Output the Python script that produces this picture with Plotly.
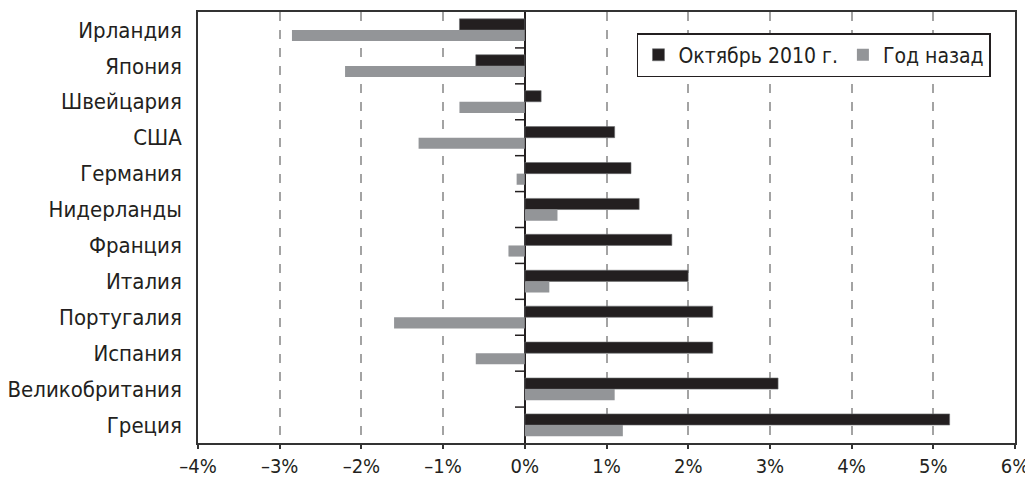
import plotly.graph_objects as go

countries = ["Ирландия", "Япония", "Швейцария", "США", "Германия", "Нидерланды",
             "Франция", "Италия", "Португалия", "Испания", "Великобритания", "Греция"]
oct_2010 = [-0.8, -0.6, 0.2, 1.1, 1.3, 1.4, 1.8, 2.0, 2.3, 2.3, 3.1, 5.2]
year_ago = [-2.85, -2.2, -0.8, -1.3, -0.1, 0.4, -0.2, 0.3, -1.6, -0.6, 1.1, 1.2]
tick_vals = [-4, -3, -2, -1, 0, 1, 2, 3, 4, 5, 6]
tick_text = ["–4%", "–3%", "–2%", "–1%", "0%", "1%", "2%", "3%", "4%", "5%", "6%"]

FONT = "DejaVu Sans Condensed, Liberation Sans Narrow, sans-serif"

fig = go.Figure()
fig.add_trace(go.Bar(y=countries, x=oct_2010, orientation="h", name="Октябрь 2010 г.",
                     marker=dict(color="#231f20", line=dict(color="#6d6e70", width=0.6))))
fig.add_trace(go.Bar(y=countries, x=year_ago, orientation="h", name="Год назад",
                     marker=dict(color="#939598", line=dict(width=0))))

# small category ticks on the zero line (group boundaries)
shapes = []
for i in range(1, len(countries)):
    shapes.append(dict(type="line", xref="x", yref="y", x0=-0.12, x1=0,
                       y0=i - 0.5, y1=i - 0.5, line=dict(color="#231f20", width=1.5)))

# page body has an 8px margin, so the figure is sized to fit the 1033x479 window
fig.update_layout(
    width=1025, height=471,
    margin=dict(l=190, r=18, t=4, b=36),
    paper_bgcolor="white", plot_bgcolor="white",
    barmode="group", bargap=0.38, bargroupgap=0,
    font=dict(family=FONT, size=22, color="#231f20"),
    shapes=shapes,
    legend=dict(orientation="h", x=0.9706, xanchor="right", y=0.951, yanchor="top",
                bordercolor="#231f20", borderwidth=1.5, bgcolor="white",
                font=dict(size=21), itemwidth=30, tracegroupgap=0,
                traceorder="normal"),
    xaxis=dict(range=[-4, 6], tickvals=tick_vals, ticktext=tick_text, automargin=False,
               showgrid=True, gridcolor="#a3a3a3", gridwidth=1.5, griddash="dash",
               zeroline=True, zerolinecolor="#231f20", zerolinewidth=1.5,
               showline=True, linecolor="#333333", linewidth=1.5, mirror=True,
               ticks="outside", ticklen=4, tickcolor="#333333", tickwidth=1.5,
               tickfont=dict(size=20)),
    yaxis=dict(categoryorder="array", categoryarray=countries, autorange="reversed",
               automargin=False,
               showline=True, linecolor="#333333", linewidth=1.5, mirror=True,
               showgrid=False, ticks="", ticklabelstandoff=10,
               tickfont=dict(size=22)),
)

fig.write_html("out.html")
